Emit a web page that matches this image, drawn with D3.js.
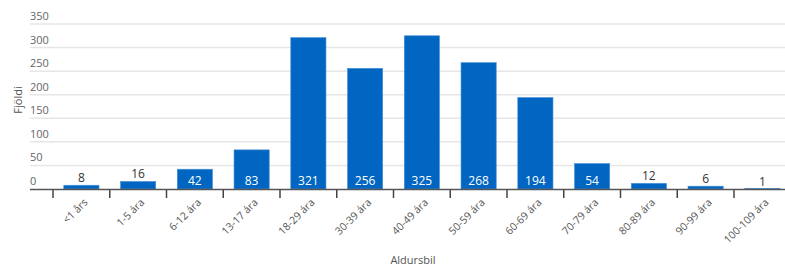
<!DOCTYPE html>
<html>
<head>
<meta charset="utf-8">
<script src="https://cdn.jsdelivr.net/npm/d3@7"></script>
<style>
  body { margin: 0; background: #fff; }
  svg { display: block; font-family: "Open Sans", sans-serif; }
</style>
</head>
<body>
<div id="chart"></div>
<script>
const categories = ["<1 års", "1-5 ára", "6-12 ára", "13-17 ára", "18-29 ára", "30-39 ára",
  "40-49 ára", "50-59 ára", "60-69 ára", "70-79 ára", "80-89 ára", "90-99 ára", "100-109 ára"];
const counts = [8, 16, 42, 83, 321, 256, 325, 268, 194, 54, 12, 6, 1];
const yTicks = [0, 50, 100, 150, 200, 250, 300, 350];

const W = 785, H = 266;
const svg = d3.select("#chart").append("svg")
    .attr("width", W).attr("height", H);

const x = d3.scaleBand()
    .domain(categories)
    .range([53, 53 + 13 * 56.75])
    .paddingInner(0.38)
    .paddingOuter(0.19);

const y = d3.scaleLinear()
    .domain([0, 350])
    .range([189, 24]);

// grid lines + y labels
const grid = svg.append("g");
grid.selectAll("line")
    .data(yTicks.filter(d => d > 0))
    .join("line")
    .attr("x1", 30).attr("x2", W)
    .attr("y1", d => y(d)).attr("y2", d => y(d))
    .attr("stroke", "#e6e6e6")
    .attr("stroke-width", 1.5);

grid.selectAll("text")
    .data(yTicks)
    .join("text")
    .attr("x", 30)
    .attr("y", d => y(d) - 4)
    .attr("font-size", 11)
    .attr("fill", "#666")
    .text(d => d);

// bars
svg.selectAll("rect.bar")
    .data(counts)
    .join("rect")
    .attr("class", "bar")
    .attr("x", (d, i) => x(categories[i]))
    .attr("y", d => y(d))
    .attr("width", x.bandwidth())
    .attr("height", d => y(0) - y(d))
    .attr("fill", "#0066c2")
    .attr("stroke", "#4a90d6")
    .attr("stroke-width", 0.6);

// value labels: inside the bar when it is tall enough, above it otherwise
svg.selectAll("text.val")
    .data(counts)
    .join("text")
    .attr("class", "val")
    .attr("x", (d, i) => x(categories[i]) + x.bandwidth() / 2)
    .attr("y", d => (y(0) - y(d)) > 16 ? y(0) - 4 : y(d) - 3)
    .attr("text-anchor", "middle")
    .attr("font-size", 12)
    .attr("fill", d => (y(0) - y(d)) > 16 ? "#fff" : "#333")
    .text(d => d);

// x axis
const xAxis = svg.append("g");
xAxis.append("line")
    .attr("x1", 30).attr("x2", W)
    .attr("y1", 189.5).attr("y2", 189.5)
    .attr("stroke", "#555")
    .attr("stroke-width", 1.5);

const step = x.step();
xAxis.selectAll("line.tick")
    .data(categories)
    .join("line")
    .attr("class", "tick")
    .attr("x1", d => x(d) + x.bandwidth() / 2 - step / 2)
    .attr("x2", d => x(d) + x.bandwidth() / 2 - step / 2)
    .attr("y1", 190).attr("y2", 198)
    .attr("stroke", "#444")
    .attr("stroke-width", 1.5);

xAxis.selectAll("text")
    .data(categories)
    .join("text")
    .attr("transform", d => `translate(${x(d) + x.bandwidth() / 2 + 7},${203}) rotate(-45)`)
    .attr("text-anchor", "end")
    .attr("font-size", 10.5)
    .attr("fill", "#555")
    .text(d => d);

// axis titles
svg.append("text")
    .attr("x", 413).attr("y", 264)
    .attr("text-anchor", "middle")
    .attr("font-size", 11)
    .attr("fill", "#555")
    .text("Aldursbil");

svg.append("text")
    .attr("transform", `translate(22,100) rotate(-90)`)
    .attr("text-anchor", "middle")
    .attr("font-size", 11)
    .attr("fill", "#555")
    .text("Fjöldi");
</script>
</body>
</html>
